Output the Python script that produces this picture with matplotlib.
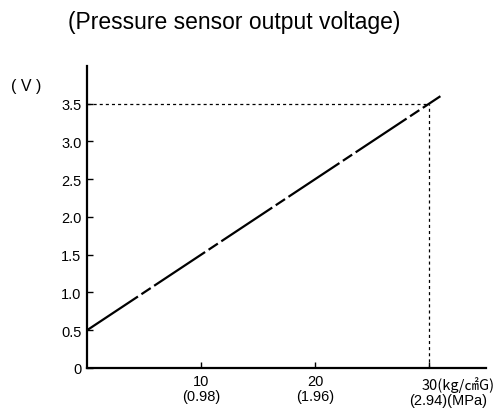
import matplotlib
matplotlib.use('Agg')
import matplotlib.pyplot as plt

plt.rcParams['font.family'] = ['Liberation Sans Narrow', 'Liberation Sans', 'DejaVu Sans']
plt.rcParams['lines.scale_dashes'] = False

# pressure (kg/cm2G) and sensor output (V)
pressure = [0, 31]
voltage = [0.5, 3.6]
ref_p = 30
ref_v = 3.5

yticks = [0, 0.5, 1.0, 1.5, 2.0, 2.5, 3.0, 3.5]
ylabels = ['0', '0.5', '1.0', '1.5', '2.0', '2.5', '3.0', '3.5']
xticks = [10, 20, 30]
xlabels = ['10\n(0.98)', '20\n(1.96)', '']

fig = plt.figure(figsize=(5.04, 4.10), dpi=100)
ax = fig.add_axes([0.1726, 0.1, 0.7917, 0.7366])

ax.plot(pressure, voltage, color='black', lw=1.6,
        linestyle=(0, (44, 3, 8, 3)), solid_capstyle='butt')
ax.plot([0, ref_p], [ref_v, ref_v], color='black', lw=0.9,
        linestyle=(0, (2.2, 2.2)))
ax.plot([ref_p, ref_p], [0, ref_v], color='black', lw=0.9,
        linestyle=(0, (2.2, 2.2)))

ax.set_xlim(0, 35)
ax.set_ylim(0, 4)
for s in ['top', 'right']:
    ax.spines[s].set_visible(False)
for s in ['left', 'bottom']:
    ax.spines[s].set_linewidth(1.6)

ax.set_yticks(yticks)
ax.set_yticklabels(ylabels)
ax.set_xticks(xticks)
ax.set_xticklabels(xlabels, linespacing=1.1)
ax.tick_params(axis='both', direction='in', length=4, width=1, labelsize=10.5)
ax.tick_params(axis='y', pad=4)
ax.tick_params(axis='x', pad=4)

cjk = ['Liberation Sans Narrow', 'Noto Sans CJK JP', 'DejaVu Sans']
fig.text(0.465, 0.944, '(Pressure sensor output voltage)', ha='center', va='center',
         fontsize=16.5, family=['Liberation Sans', 'DejaVu Sans'])
fig.text(0.052, 0.788, '( V )', ha='center', va='center', fontsize=11.5)
fig.text(0.836, 0.061, '30(kg/㎠G)', ha='left', va='center', fontsize=10.5, family=cjk)
fig.text(0.8115, 0.022, '(2.94)(MPa)', ha='left', va='center', fontsize=10.5)

fig.savefig('out.png', dpi=100)
